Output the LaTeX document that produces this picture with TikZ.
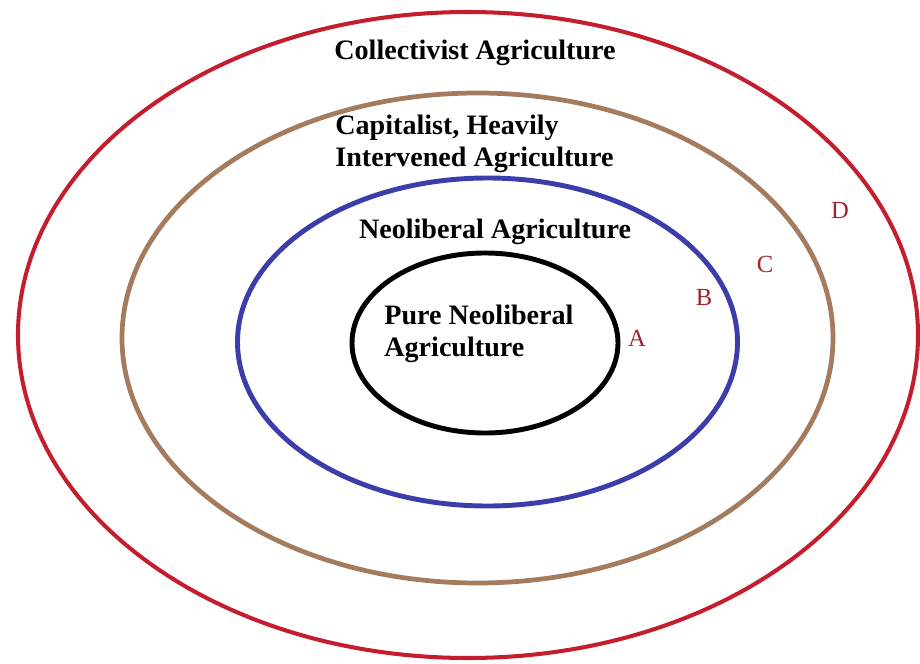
\documentclass[tikz,border=0pt]{standalone}
\usepackage{fontspec}
\setmainfont{Liberation Serif}
\definecolor{ored}{HTML}{C41E2E}
\definecolor{obrown}{HTML}{A57B5E}
\definecolor{oblue}{HTML}{3A3DAA}
\definecolor{lred}{HTML}{9E2230}

\begin{document}
\begin{tikzpicture}[x=0.02cm, y=-0.02cm,
    every node/.style={font=\fontsize{16}{18}\selectfont\bfseries, align=left, inner sep=0pt},
    letter/.style={font=\fontsize{14}{16}\selectfont, text=lred}]
        \useasboundingbox (0,0) rectangle (920,663);
        % the four rings
        \draw[ored, line width=2.3pt] (468,335) ellipse [x radius=450, y radius=323];
        \draw[obrown, line width=2.7pt] (477.5,338) ellipse [x radius=355.5, y radius=245];
        \draw[oblue, line width=2.8pt] (487.5,342) ellipse [x radius=250, y radius=164];
        \draw[black, line width=2.8pt] (485,343) ellipse [x radius=133, y radius=90];
        % ring labels
        \node (coll) at (475,53) {Collectivist Agriculture};
        \node[anchor=west] (cap) at (335,144) {Capitalist, Heavily\\Intervened Agriculture};
        \node (neo) at (495,232) {Neoliberal Agriculture};
        \node[anchor=west] (pure) at (384,334) {Pure Neoliberal\\Agriculture};
        \node[letter] (la) at (637,338) {A};
        \node[letter] (lb) at (704,297) {B};
        \node[letter] (lc) at (765,264) {C};
        \node[letter] (ld) at (840,210) {D};
      \end{tikzpicture}
\end{document}
